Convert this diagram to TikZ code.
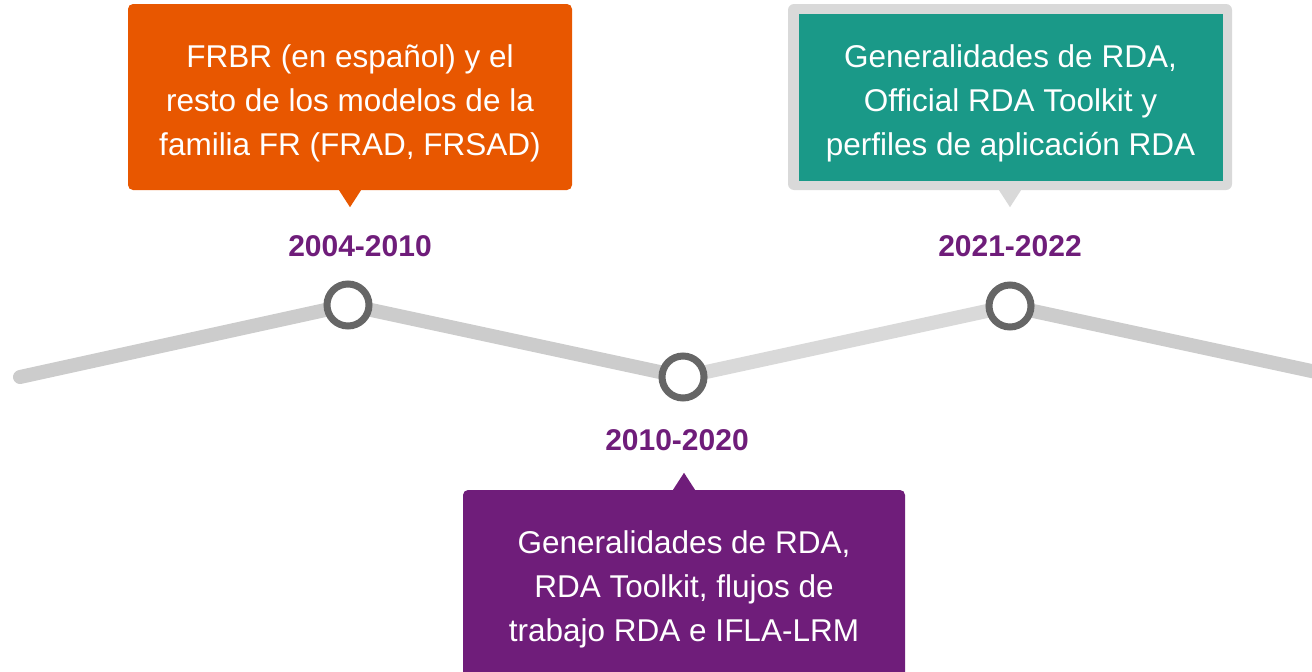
\documentclass[tikz,border=0pt]{standalone}
\usepackage{fontspec}
\setmainfont{Liberation Sans}
\usetikzlibrary{backgrounds}
\definecolor{frorange}{HTML}{E85700}
\definecolor{rdateal}{HTML}{1A9988}
\definecolor{lrmpurple}{HTML}{6F1D7A}
\definecolor{trackgray}{HTML}{CCCCCC}
\definecolor{tracklight}{HTML}{D9D9D9}
\definecolor{ringgray}{HTML}{666666}
\begin{document}
\begin{tikzpicture}[x=1pt,y=-1pt,
  track/.style={line width=14pt,draw=trackgray},
  ring/.style={circle,draw=ringgray,line width=7pt,fill=white,minimum size=42pt,inner sep=0pt},
  year/.style={text=lrmpurple,font=\fontsize{30}{30}\selectfont\bfseries},
  card/.style={minimum width=444pt,minimum height=186pt,inner sep=0pt},
  cardtext/.style={text=white,align=center,inner sep=0pt,font=\fontsize{31.5}{44}\selectfont}]
\useasboundingbox(0,0)rectangle(1312,672);
% timeline
\node[ring](t1)at(348,305){};
\node[ring](t2)at(683,377){};
\node[ring](t3)at(1010,306){};
\coordinate(start)at(20,377);
\coordinate(stop)at(1330,375);
\begin{pgfonlayer}{background}
\draw[track,line cap=round](start)--(t1.center)--(t2.center);
\draw[track,draw=tracklight](t2.center)--(t3.center);
\draw[track](t3.center)--(stop);
\end{pgfonlayer}
\node[year]at(360,246){2004-2010};
\node[year]at(677,440){2010-2020};
\node[year]at(1010,246){2021-2022};
% cards
\node[card,fill=frorange,rounded corners=5pt](frbr)at(350,97){};
\fill[frorange]([xshift=-11pt]frbr.south)--++(11,17)--++(11,-17)--cycle;
\node[cardtext]at([yshift=-6pt]frbr.center)
  {FRBR (en español) y el\\resto de los modelos de la\\familia FR (FRAD, FRSAD)};
\node[card,fill=tracklight,rounded corners=6pt](frame)at(1010,97){};
\fill[tracklight]([xshift=-11pt]frame.south)--++(11,17)--++(11,-17)--cycle;
\node[card,fill=rdateal,minimum width=424pt,minimum height=167pt](rda)at(1010.5,97.5){};
\node[cardtext]at([yshift=-6pt]rda.center)
  {Generalidades de RDA,\\Official RDA Toolkit y\\perfiles de aplicación RDA};
\node[card,fill=lrmpurple,rounded corners=5pt,minimum width=442pt,minimum height=190pt](lrm)at(684,585){};
\fill[lrmpurple]([xshift=-11pt]lrm.north)--++(11,-17)--++(11,17)--cycle;
\node[cardtext]at([yshift=-4pt]lrm.center)
  {Generalidades de RDA,\\RDA Toolkit, flujos de\\trabajo RDA e IFLA-LRM};
\end{tikzpicture}
\end{document}
